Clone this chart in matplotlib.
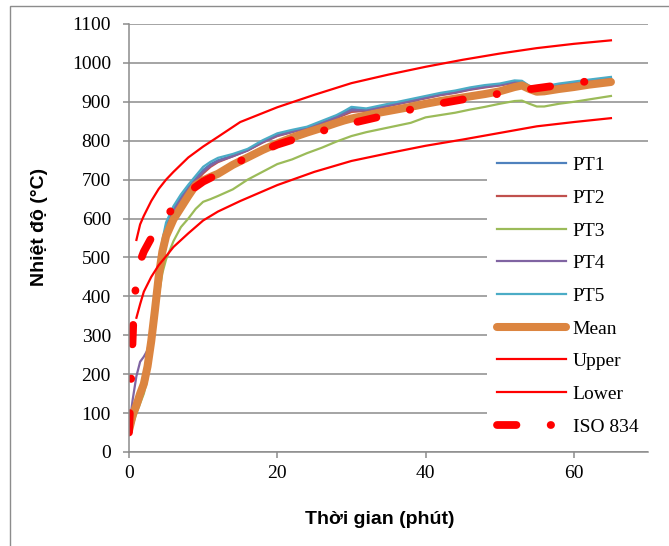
import matplotlib
matplotlib.use("Agg")
import matplotlib.pyplot as plt
from matplotlib.patches import Rectangle

# time (min) for the thermocouple readings
t = [0, 0.5, 1, 1.5, 2, 2.5, 3, 3.5, 4, 4.5, 5, 6, 7, 8, 9, 10, 11, 12, 14, 16, 18, 20, 22, 24,
     26, 28, 29, 30, 32, 34, 36, 38, 40, 42, 44, 46, 48, 50, 52, 53, 54, 55, 56, 58, 60, 62, 65]

pt1 = [55, 90, 115, 142, 172, 215, 295, 385, 472, 535, 582, 625, 655, 680, 703, 725, 740, 750, 762, 776,
       797, 815, 824, 833, 846, 862, 872, 882, 879, 887, 895, 903, 911, 919, 925, 933, 939, 944, 951, 952,
       939, 935, 937, 944, 949, 954, 961]
pt2 = [58, 92, 118, 145, 175, 218, 296, 380, 465, 528, 572, 615, 645, 670, 695, 716, 733, 745, 760, 775,
       795, 812, 822, 832, 845, 858, 866, 874, 877, 885, 893, 901, 909, 917, 923, 931, 937, 942, 949, 950,
       938, 934, 936, 943, 948, 953, 960]
pt3 = [50, 70, 100, 125, 150, 190, 262, 340, 400, 460, 495, 542, 578, 600, 625, 643, 650, 658, 675, 700,
       720, 740, 752, 768, 782, 798, 805, 812, 822, 830, 838, 846, 860, 866, 872, 880, 887, 895, 902, 903,
       895, 888, 888, 895, 900, 906, 915]
pt4 = [60, 135, 195, 232, 245, 262, 318, 392, 470, 532, 578, 620, 650, 676, 700, 720, 736, 747, 760, 775,
       796, 813, 823, 833, 846, 860, 869, 878, 878, 886, 894, 902, 910, 918, 924, 932, 938, 943, 950, 951,
       939, 935, 937, 944, 950, 955, 962]
pt5 = [55, 88, 112, 140, 170, 218, 300, 392, 480, 545, 590, 632, 662, 687, 710, 733, 746, 756, 766, 779,
       801, 819, 828, 836, 851, 866, 876, 887, 883, 891, 899, 907, 915, 923, 929, 937, 943, 947, 955, 954,
       941, 937, 940, 947, 952, 957, 964]
mean = [55, 95, 120, 150, 175, 220, 285, 365, 450, 515, 555, 598, 628, 658, 686, 698, 707, 715, 738, 757,
        776, 793, 808, 821, 833, 846, 852, 857, 865, 873, 880, 887, 895, 902, 908, 914, 920, 927, 938, 942,
        933, 926, 927, 933, 938, 944, 951]

# limits
t_lim = [1, 1.5, 2, 3, 4, 5, 6, 8, 10, 12, 15, 20, 25, 30, 35, 40, 45, 50, 55, 60, 65]
upper = [545, 585, 607, 645, 676, 700, 720, 757, 785, 810, 848, 886, 918, 948, 970, 990, 1008, 1024, 1038, 1049, 1058]
lower = [345, 380, 412, 450, 480, 503, 527, 562, 595, 618, 645, 686, 720, 748, 768, 787, 803, 820, 837, 848, 858]

# ISO 834 curve
t_iso = [0, 0.15, 0.3, 0.45, 0.6, 0.9, 1.5, 2, 3, 4, 5, 6, 8, 10, 12, 15, 20, 25, 30, 35, 40, 45, 50, 55, 60, 62]
iso = [50, 120, 195, 270, 345, 424, 490, 515, 550, 580, 605, 628, 668, 695, 714, 748, 790, 820, 845, 867,
       889, 906, 921, 935, 948, 953]

grey = "#8c8c8c"
serif = "Liberation Serif"
sans = "Liberation Sans"

fig = plt.figure(figsize=(6.69, 5.46), dpi=100)
ax = fig.add_axes([129 / 669, 1 - 452 / 546, 519 / 669, 428 / 546])

ax.plot(t, pt1, color="#4F81BD", lw=1.6, label="PT1")
ax.plot(t, pt2, color="#C0504D", lw=1.6, label="PT2")
ax.plot(t, pt3, color="#9BBB59", lw=1.6, label="PT3")
ax.plot(t, pt4, color="#8064A2", lw=1.6, label="PT4")
ax.plot(t, pt5, color="#4BACC6", lw=1.6, label="PT5")
ax.plot(t, mean, color="#DC8540", lw=5.8, solid_capstyle="round", solid_joinstyle="round", label="Mean")
ax.plot(t_lim, upper, color="#FF0000", lw=1.6, label="Upper")
ax.plot(t_lim, lower, color="#FF0000", lw=1.6, label="Lower")
ax.plot(t_iso, iso, color="#FF0000", lw=5.6, dashes=(2.5, 4.4, 0.05, 4.4),
        dash_capstyle="round", label="ISO 834")

ax.set_xlim(0, 70)
ax.set_ylim(0, 1100)
ax.set_xticks([0, 20, 40, 60])
ax.set_yticks(range(0, 1101, 100))

ax.yaxis.grid(True, color=grey, lw=1.1)
ax.set_axisbelow(True)
for s in ["top", "right"]:
    ax.spines[s].set_visible(False)
for s in ["left", "bottom"]:
    ax.spines[s].set_color(grey)
    ax.spines[s].set_linewidth(1.1)

ax.tick_params(direction="out", length=4.5, width=1.1, color=grey, labelsize=14)
ax.tick_params(axis="y", pad=8.5)
ax.tick_params(axis="x", pad=4.5)
for lab in ax.get_xticklabels() + ax.get_yticklabels():
    lab.set_fontfamily(serif)

leg = ax.legend(loc="upper left", bbox_to_anchor=(0.69, 0.713), prop={"family": serif, "size": 14},
                frameon=True, fancybox=False, edgecolor="none", facecolor="white", framealpha=1,
                handlelength=3.55, handletextpad=0.36, labelspacing=0.775, borderpad=0.5,
                borderaxespad=0)

fig.text(39 / 669, 1 - 227 / 546, "Nhiệt độ (°C)", rotation=90, ha="center", va="center",
         fontsize=14, fontweight="bold", family=sans)
fig.text(380 / 669, 1 - 520 / 546, "Thời gian (phút)", ha="center", va="center",
         fontsize=14, fontweight="bold", family=sans)

# outer chart border
fig.add_artist(Rectangle((10 / 669, -0.05), 1.2, 1 - 6 / 546 + 0.05, transform=fig.transFigure,
                         fill=False, ec=grey, lw=1.0))

fig.savefig("out.png", dpi=100)
